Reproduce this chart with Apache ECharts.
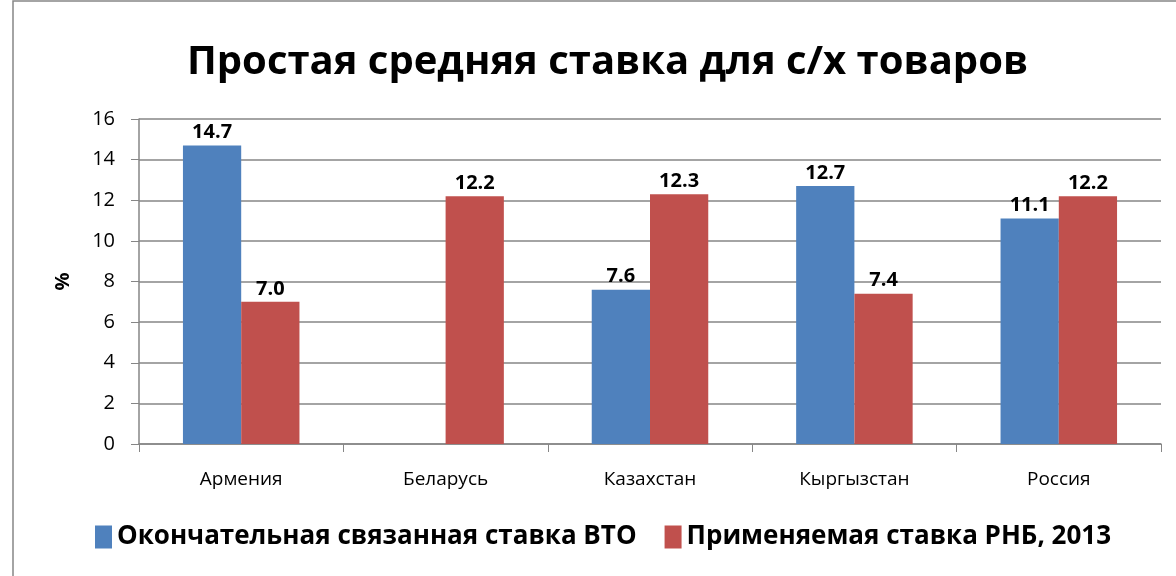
<!DOCTYPE html>
<html>
<head>
<meta charset="utf-8">
<script src="https://cdn.jsdelivr.net/npm/echarts@6/dist/echarts.min.js"></script>
<style>
  html, body { margin: 0; padding: 0; background: #fff; }
  #chart { width: 1176px; height: 576px; }
</style>
</head>
<body>
<div id="chart"></div>
<script>
var countries = ['Армения', 'Беларусь', 'Казахстан', 'Кыргызстан', 'Россия'];
var wtoBound = [14.7, null, 7.6, 12.7, 11.1];
var mfnApplied = [7.0, 12.2, 12.3, 7.4, 12.2];
var seriesNames = ['Окончательная связанная ставка ВТО', 'Применяемая ставка РНБ, 2013'];

var font = '"Open Sans", "Noto Sans", sans-serif';

var labelOpt = {
    show: true,
    position: 'top',
    distance: 3,
    fontFamily: font,
    fontWeight: 'bold',
    fontSize: 20,
    color: '#000',
    formatter: function (p) { return p.value == null ? '' : p.value.toFixed(1); }
};

var chart = echarts.init(document.getElementById('chart'));
chart.setOption({
    animation: false,
    backgroundColor: '#fff',
    graphic: [{
        type: 'rect',
        shape: { x: 13, y: 1, width: 1175, height: 590 },
        style: { fill: 'none', stroke: '#868686', lineWidth: 1.5 },
        silent: true
    }],
    title: {
        text: 'Простая средняя ставка для с/х товаров',
        left: 182,
        top: 38,
        textStyle: { fontFamily: font, fontWeight: 'bold', fontSize: 40, color: '#000' }
    },
    legend: {
        bottom: 21,
        left: 90,
        itemWidth: 17,
        itemHeight: 23,
        itemGap: 28,
        icon: 'rect',
        textStyle: { fontFamily: font, fontWeight: 'bold', fontSize: 26, color: '#000' },
        data: seriesNames
    },
    grid: { left: 139, right: 15, top: 119, bottom: 132 },
    xAxis: {
        type: 'category',
        data: countries,
        axisLine: { lineStyle: { color: '#868686', width: 1.5 } },
        axisTick: { show: true, interval: 0, length: 8, lineStyle: { color: '#868686' } },
        axisLabel: { fontFamily: font, fontSize: 19, color: '#000', margin: 26 }
    },
    yAxis: {
        type: 'value',
        min: 0,
        max: 16,
        interval: 2,
        name: '%',
        nameLocation: 'middle',
        nameGap: 66,
        nameRotate: 90,
        nameTextStyle: { fontFamily: font, fontWeight: 'bold', fontSize: 20, color: '#000' },
        axisLine: { show: true, lineStyle: { color: '#868686', width: 1.5 } },
        axisTick: { show: true, length: 8, lineStyle: { color: '#868686' } },
        splitLine: { lineStyle: { color: '#868686', width: 1.5 } },
        axisLabel: { fontFamily: font, fontSize: 20, color: '#000', margin: 24 }
    },
    series: [{
        name: seriesNames[0],
        type: 'bar',
        data: wtoBound,
        barGap: '0%',
        barCategoryGap: '43%',
        itemStyle: { color: '#4F81BD' },
        label: labelOpt
    }, {
        name: seriesNames[1],
        type: 'bar',
        data: mfnApplied,
        itemStyle: { color: '#C0504D' },
        label: labelOpt
    }]
});
</script>
</body>
</html>
